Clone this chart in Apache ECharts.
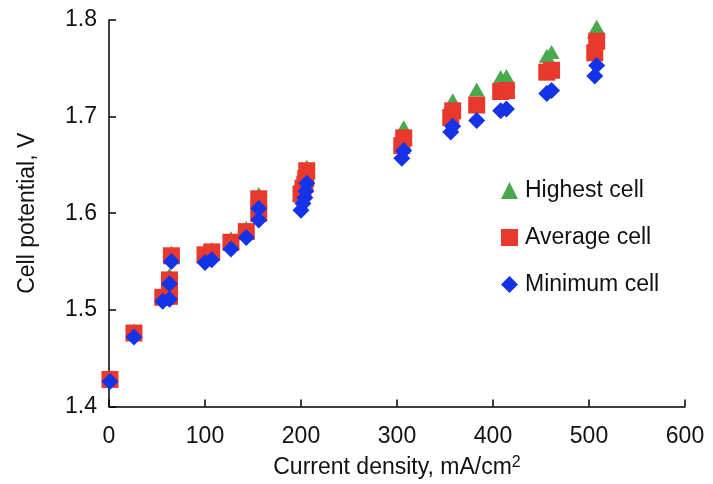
<!DOCTYPE html>
<html>
<head>
<meta charset="utf-8">
<script src="https://cdn.jsdelivr.net/npm/echarts@6/dist/echarts.min.js"></script>
<style>html,body{margin:0;padding:0;background:#fff}#c{width:713px;height:484px}</style>
</head>
<body>
<div id="c"></div>
<script>
var currentDensity = [1, 26, 56, 63, 63, 65, 100, 107, 127, 143, 156, 156, 200, 202, 204, 205, 206, 305, 307, 356, 358, 383, 408, 414, 456, 461, 506, 508];
var highestCell = [1.430, 1.479, 1.516, 1.519, 1.536, 1.559, 1.560, 1.563, 1.574, 1.585, 1.603, 1.620, 1.625, 1.630, 1.636, 1.641, 1.648, 1.683, 1.689, 1.712, 1.717, 1.728, 1.741, 1.742, 1.763, 1.767, 1.788, 1.793];
var averageCell = [1.428, 1.476, 1.513, 1.514, 1.531, 1.556, 1.557, 1.560, 1.570, 1.581, 1.600, 1.615, 1.620, 1.626, 1.630, 1.636, 1.644, 1.670, 1.678, 1.699, 1.706, 1.712, 1.726, 1.727, 1.746, 1.748, 1.766, 1.778];
var minimumCell = [1.426, 1.472, 1.509, 1.511, 1.527, 1.550, 1.549, 1.552, 1.563, 1.575, 1.593, 1.605, 1.603, 1.610, 1.616, 1.623, 1.631, 1.657, 1.665, 1.684, 1.690, 1.696, 1.706, 1.708, 1.724, 1.727, 1.742, 1.753];
var xTicks = {min: 0, max: 600, interval: 100};
var yTicks = {min: 1.4, max: 1.8, interval: 0.1};
var seriesNames = ['Highest cell', 'Average cell', 'Minimum cell'];

function pairs(ys) { return currentDensity.map(function (x, i) { return [x, ys[i]]; }); }

var FONT = '"Liberation Sans", Arial, sans-serif';
var FS = 23;
var chart = echarts.init(document.getElementById('c'), null, {renderer: 'canvas'});
chart.setOption({
  animation: false,
  backgroundColor: '#fff',
  textStyle: {fontFamily: FONT},
  grid: {left: 109, right: 28, top: 20, bottom: 76, containLabel: false},
  legend: {
    orient: 'vertical', left: 496, top: 174, itemGap: 24,
    itemWidth: 17, itemHeight: 17,
    textStyle: {fontSize: FS, color: '#111', fontFamily: FONT, padding: [0, 0, 0, 2]},
    data: [
      {name: seriesNames[0], icon: 'triangle'},
      {name: seriesNames[1], icon: 'rect'},
      {name: seriesNames[2], icon: 'diamond'}
    ]
  },
  xAxis: {
    type: 'value', min: xTicks.min, max: xTicks.max, interval: xTicks.interval,
    name: 'Current density, mA/cm{sup|2}', nameLocation: 'middle', nameGap: 48,
    nameTextStyle: {fontSize: FS, color: '#111', fontFamily: FONT,
      rich: {sup: {fontSize: 16, color: '#111', fontFamily: FONT, padding: [0, 0, 10, 0]}}},
    axisLine: {show: true, lineStyle: {color: '#000', width: 1.5}},
    axisTick: {show: true, inside: true, length: 7, lineStyle: {color: '#000', width: 1.5}},
    axisLabel: {fontSize: FS, color: '#111', margin: 19, fontFamily: FONT},
    splitLine: {show: false}
  },
  yAxis: {
    type: 'value', min: yTicks.min, max: yTicks.max, interval: yTicks.interval,
    name: 'Cell potential, V', nameLocation: 'middle', nameGap: 70, nameRotate: 90,
    nameTextStyle: {fontSize: FS, color: '#111', fontFamily: FONT},
    axisLine: {show: true, lineStyle: {color: '#000', width: 1.5}},
    axisTick: {show: true, inside: true, length: 7, lineStyle: {color: '#000', width: 1.5}},
    axisLabel: {fontSize: FS, color: '#111', margin: 12, fontFamily: FONT,
      formatter: function (v) { return v.toFixed(1); }},
    splitLine: {show: false}
  },
  series: [
    {name: seriesNames[0], type: 'scatter', symbol: 'triangle', symbolSize: [16, 14],
      itemStyle: {color: '#4aa84e', opacity: 1}, data: pairs(highestCell)},
    {name: seriesNames[1], type: 'scatter', symbol: 'rect', symbolSize: 17,
      itemStyle: {color: '#e8392c', opacity: 1}, data: pairs(averageCell)},
    {name: seriesNames[2], type: 'scatter', symbol: 'diamond', symbolSize: 17,
      itemStyle: {color: '#1433e6', opacity: 1}, data: pairs(minimumCell)}
  ]
});
</script>
</body>
</html>
